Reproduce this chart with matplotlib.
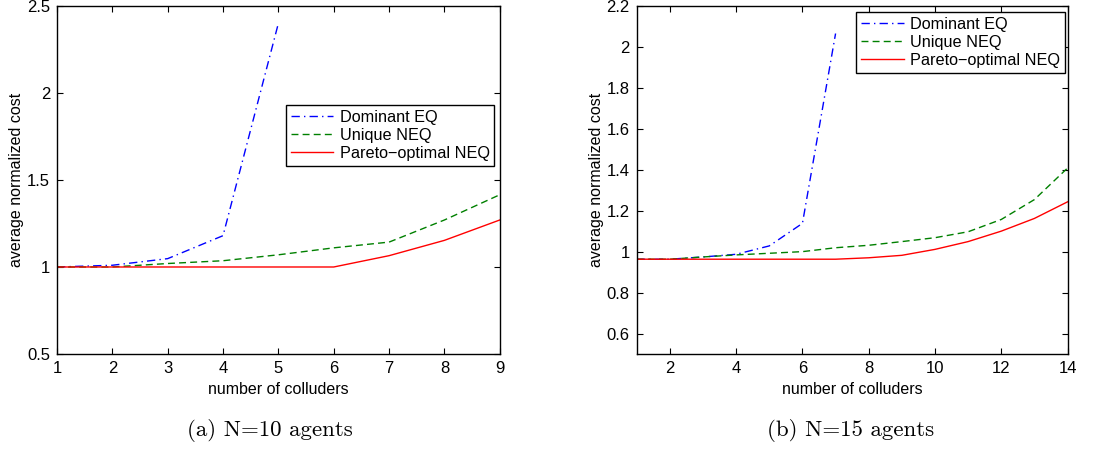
import matplotlib
matplotlib.use("Agg")
import matplotlib.pyplot as plt

plt.rcParams['font.family'] = ['Liberation Sans', 'DejaVu Sans']

# N=10 agents
x10 = [1, 2, 3, 4, 5, 6, 7, 8, 9]
dom10 = [1.0, 1.01, 1.048, 1.18, 2.40]
uniq10 = [1.0, 1.0, 1.02, 1.036, 1.07, 1.11, 1.143, 1.27, 1.415]
par10 = [1.0, 1.0, 1.0, 1.0, 1.0, 1.0, 1.065, 1.153, 1.27]

# N=15 agents
x15 = [1, 2, 3, 4, 5, 6, 7, 8, 9, 10, 11, 12, 13, 14]
dom15 = [0.963, 0.963, 0.974, 0.987, 1.028, 1.138, 2.065]
uniq15 = [0.963, 0.963, 0.974, 0.984, 0.992, 1.0, 1.019, 1.031, 1.049,
          1.068, 1.097, 1.157, 1.254, 1.408]
par15 = [0.963, 0.963, 0.963, 0.963, 0.963, 0.963, 0.963, 0.97, 0.982,
         1.011, 1.049, 1.10, 1.162, 1.243]

labels = ['Dominant EQ', 'Unique NEQ', 'Pareto\u2212optimal NEQ']
captions = ['(a) N=10 agents', '(b) N=15 agents']

fig = plt.figure(figsize=(10.96, 4.51), dpi=100)
ax1 = fig.add_axes([0.052, 0.215, 0.404, 0.772])
ax2 = fig.add_axes([0.581, 0.215, 0.393, 0.772])


def draw(ax, x, dom, uniq, par):
    ax.plot(x[:len(dom)], dom, '-.', color=(0, 0, 1), lw=1.0, label=labels[0],
            dashes=(6, 3, 1, 3))
    ax.plot(x, uniq, '--', color=(0, 0.5, 0), lw=1.0, label=labels[1], dashes=(5, 3))
    ax.plot(x, par, '-', color=(1, 0, 0), lw=1.0, label=labels[2])
    ax.tick_params(direction='in', top=True, right=True, labelsize=12, length=4, pad=5)
    for s in ax.spines.values():
        s.set_linewidth(1.0)
    ax.set_xlabel('number of colluders', fontsize=11.5, labelpad=4)
    ax.set_ylabel('average normalized cost', fontsize=11.5, labelpad=2)


draw(ax1, x10, dom10, uniq10, par10)
ax1.set_xlim(1, 9)
ax1.set_ylim(0.5, 2.5)
ax1.set_xticks(x10)
ax1.set_yticks([0.5, 1, 1.5, 2, 2.5])
ax1.set_yticklabels(['0.5', '1', '1.5', '2', '2.5'])
leg1 = ax1.legend(loc='upper left', bbox_to_anchor=(0.517, 0.716), fontsize=11.7,
                  fancybox=False, edgecolor='black', framealpha=1,
                  handlelength=2.6, borderpad=0.3, labelspacing=0.2,
                  handletextpad=0.4, borderaxespad=0)
leg1.get_frame().set_linewidth(1.0)

draw(ax2, x15, dom15, uniq15, par15)
ax2.set_xlim(1, 14)
ax2.set_ylim(0.5, 2.2)
ax2.set_xticks([2, 4, 6, 8, 10, 12, 14])
ax2.set_yticks([0.6, 0.8, 1, 1.2, 1.4, 1.6, 1.8, 2, 2.2])
ax2.set_yticklabels(['0.6', '0.8', '1', '1.2', '1.4', '1.6', '1.8', '2', '2.2'])
leg2 = ax2.legend(loc='upper left', bbox_to_anchor=(0.51, 0.983), fontsize=11.7,
                  fancybox=False, edgecolor='black', framealpha=1,
                  handlelength=2.6, borderpad=0.3, labelspacing=0.2,
                  handletextpad=0.4, borderaxespad=0)
leg2.get_frame().set_linewidth(1.0)

fig.text(270 / 1096, 1 - 430 / 451, captions[0], fontsize=16.5, family='cmr10',
         ha='center', va='center')
fig.text(851 / 1096, 1 - 430 / 451, captions[1], fontsize=16.5, family='cmr10',
         ha='center', va='center')

fig.savefig('out.png', dpi=100)
